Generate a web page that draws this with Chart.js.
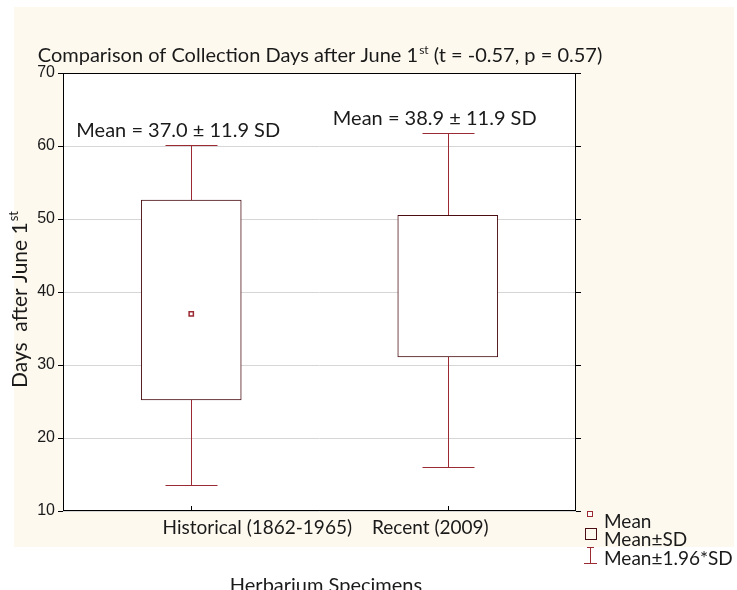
<!DOCTYPE html>
<html>
<head>
<meta charset="utf-8">
<script src="https://cdn.jsdelivr.net/npm/chart.js@4.4.1/dist/chart.umd.min.js"></script>
<style>
html, body { margin: 0; padding: 0; background: #fff; }
#wrap { width: 737px; height: 590px; position: relative; }
</style>
</head>
<body>
<div id="wrap"><canvas id="myChart"></canvas></div>
<script>
// values
const groups = ['Historical (1862-1965)', 'Recent (2009)'];
const means = [37.0, null];
const sdLow = [25.2, 31.1];
const sdHigh = [52.6, 50.5];
const ciLow = [13.6, 16.0];
const ciHigh = [60.2, 61.8];
const yTicks = [10, 20, 30, 40, 50, 60, 70];
const notes = ['Mean = 37.0 \u00b1 11.9 SD', 'Mean = 38.9 \u00b1 11.9 SD'];

const RED = '#9b2a33';
const BOX = '#4a0e12';
const TXT = '#1a1a1a';
const FONT = 'Lato, "Noto Sans", sans-serif';

// text with a superscript tail, e.g. 1st
function supText(ctx, parts, x, y, size, align) {
  const small = Math.round(size * 0.6);
  ctx.font = size + 'px ' + FONT;
  const w0 = ctx.measureText(parts[0]).width;
  ctx.font = small + 'px ' + FONT;
  const w1 = ctx.measureText(parts[1]).width;
  ctx.font = size + 'px ' + FONT;
  const w2 = parts[2] ? ctx.measureText(parts[2]).width : 0;
  const total = w0 + w1 + w2;
  let sx = align === 'center' ? x - total / 2 : x;
  ctx.textAlign = 'left';
  ctx.textBaseline = 'alphabetic';
  ctx.fillText(parts[0], sx, y);
  ctx.font = small + 'px ' + FONT;
  ctx.fillText(parts[1], sx + w0 + 1, y - size * 0.42);
  ctx.font = size + 'px ' + FONT;
  if (parts[2]) ctx.fillText(parts[2], sx + w0 + w1 + 1, y);
}

const deco = {
  id: 'deco',
  beforeDraw(chart) {
    const { ctx, chartArea: a } = chart;
    ctx.save();
    ctx.fillStyle = '#fdf9ef';
    ctx.fillRect(14, 7, 720, 540);
    ctx.fillStyle = '#fff';
    ctx.fillRect(a.left, a.top, a.right - a.left, a.bottom - a.top);
    ctx.restore();
  },
  beforeDatasetsDraw(chart) {
    const { ctx, scales: { x, y } } = chart;
    ctx.save();
    ctx.strokeStyle = RED;
    ctx.lineWidth = 1;
    groups.forEach((g, i) => {
      const cx = Math.round(x.getPixelForValue(i)) + 0.5;
      const yl = Math.round(y.getPixelForValue(ciLow[i])) + 0.5;
      const yh = Math.round(y.getPixelForValue(ciHigh[i])) + 0.5;
      ctx.beginPath();
      ctx.moveTo(cx, yl); ctx.lineTo(cx, yh);
      ctx.moveTo(cx - 26, yl); ctx.lineTo(cx + 26, yl);
      ctx.moveTo(cx - 26, yh); ctx.lineTo(cx + 26, yh);
      ctx.stroke();
    });
    ctx.restore();
  },
  afterDraw(chart) {
    const { ctx, chartArea: a, scales: { x, y } } = chart;
    ctx.save();
    // frame
    ctx.strokeStyle = '#000';
    ctx.lineWidth = 1;
    ctx.strokeRect(a.left + 0.5, a.top + 0.5, a.right - a.left - 1, a.bottom - a.top - 1);
    // inner ticks
    ctx.beginPath();
    groups.forEach((g, i) => {
      const cx = Math.round(x.getPixelForValue(i)) + 0.5;
      ctx.moveTo(cx, a.bottom); ctx.lineTo(cx, a.bottom - 5);
    });
    yTicks.forEach(v => {
      const py = Math.round(y.getPixelForValue(v)) + 0.5;
      ctx.moveTo(a.right, py); ctx.lineTo(a.right + 5, py);
    });
    ctx.stroke();

    ctx.fillStyle = TXT;
    // title
    supText(ctx, ['Comparison of Collection Days after June 1', 'st', ' (t = -0.57, p = 0.57)'],
      (a.left + a.right) / 2, 62, 20, 'center');
    // notes above whiskers
    ctx.font = '20px ' + FONT;
    ctx.textAlign = 'center';
    ctx.textBaseline = 'middle';
    groups.forEach((g, i) => {
      const cx = x.getPixelForValue(i);
      const yh = y.getPixelForValue(ciHigh[i]);
      ctx.fillText(notes[i], cx - 13, yh - 14);
    });
    // category labels
    ctx.font = '19px ' + FONT;
    ctx.textBaseline = 'middle';
    ctx.textAlign = 'right';
    ctx.fillText(groups[0], 352, 528);
    ctx.textAlign = 'left';
    ctx.fillText(groups[1], 372, 528);
    // x title (cut at the bottom edge)
    ctx.font = '20px ' + FONT;
    ctx.textAlign = 'center';
    ctx.textBaseline = 'alphabetic';
    ctx.fillText('Herbarium Specimens', 326, 592);
    // y title
    ctx.save();
    ctx.translate(27, 300);
    ctx.rotate(-Math.PI / 2);
    supText(ctx, ['Days  after June 1', 'st', ''], 0, 0, 21, 'center');
    ctx.restore();

    // legend
    ctx.strokeStyle = RED;
    ctx.fillStyle = '#fff';
    ctx.fillRect(587.5, 511.5, 5, 5);
    ctx.strokeRect(587.5, 511.5, 5, 5);
    ctx.strokeStyle = BOX;
    ctx.strokeRect(585.5, 528.5, 11, 11);
    ctx.strokeStyle = RED;
    ctx.beginPath();
    ctx.moveTo(590.5, 547); ctx.lineTo(590.5, 564);
    ctx.moveTo(587, 547.5); ctx.lineTo(594, 547.5);
    ctx.moveTo(584, 563.5); ctx.lineTo(597, 563.5);
    ctx.stroke();
    ctx.fillStyle = TXT;
    ctx.font = '19px ' + FONT;
    ctx.textAlign = 'left';
    ctx.textBaseline = 'middle';
    ctx.fillText('Mean', 604, 522);
    ctx.fillText('Mean\u00b1SD', 604, 540);
    ctx.fillText('Mean\u00b11.96*SD', 604, 559);
    ctx.restore();
  }
};

new Chart(document.getElementById('myChart'), {
  type: 'bar',
  data: {
    labels: groups,
    datasets: [{
      label: 'Mean\u00b1SD',
      data: groups.map((g, i) => [sdLow[i], sdHigh[i]]),
      backgroundColor: '#fff',
      borderColor: BOX,
      borderWidth: 1,
      borderSkipped: false,
      barThickness: 100,
      order: 2
    }, {
      type: 'line',
      label: 'Mean',
      data: means,
      showLine: false,
      pointStyle: 'rect',
      pointRadius: 3,
      pointBackgroundColor: '#fff',
      pointBorderColor: RED,
      pointBorderWidth: 1.5,
      order: 1
    }]
  },
  options: {
    responsive: true,
    maintainAspectRatio: false,
    animation: false,
    events: [],
    layout: { padding: { top: 73, right: 161, bottom: 0, left: 0 } },
    plugins: { legend: { display: false }, tooltip: { enabled: false } },
    scales: {
      x: {
        ticks: { display: false },
        grid: { display: false },
        border: { display: false },
        afterFit: s => { s.height = 79; }
      },
      y: {
        min: 10,
        max: 70,
        afterBuildTicks: s => { s.ticks = yTicks.map(v => ({ value: v })); },
        ticks: { color: TXT, padding: 3, font: { family: '"Liberation Sans", Arial, sans-serif', size: 16 } },
        grid: { color: '#d6d6d6', tickColor: '#000', tickLength: 5 },
        border: { display: false },
        afterFit: s => { s.width = 63; }
      }
    }
  },
  plugins: [deco]
});
</script>
</body>
</html>
